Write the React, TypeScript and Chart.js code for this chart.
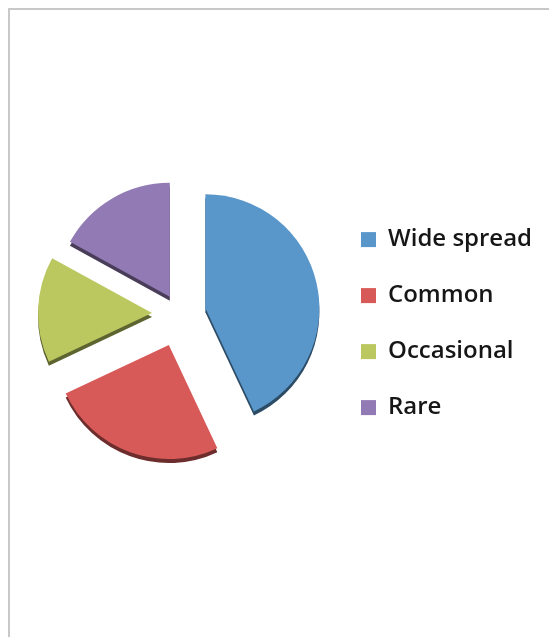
import { useEffect, useRef } from 'react';
import { Chart, ArcElement, registerables } from 'chart.js';

const categories = ['Wide spread', 'Common', 'Occasional', 'Rare'];
const shares = [43, 25, 15, 17];
const sliceColors = ['#5997cb', '#d85a58', '#bbc860', '#927bb4'];
// how far each slice is pulled out from the centre, in px
const explodeDistances = [26, 33, 28, 20];

const CANVAS_W = 547;
const CANVAS_H = 627;
const PIE_RADIUS = 114;
const AREA_LEFT = 21;
const AREA_RIGHT = 319;
const AREA_BOTTOM_PAD = 19;
const LEGEND_PAD = 32;
const LEGEND_BOX = 15;
const labelFont = { family: "'Open Sans', sans-serif", size: 24, weight: '600' };

// Arc that is moved out rigidly along its bisector, keeping its radius.
class ExplodedArc extends ArcElement {
  static id = 'explodedArc';
  draw(ctx: CanvasRenderingContext2D) {
    const opts: any = (this as any).options;
    const dist = opts.offset || 0;
    const mid = ((this as any).startAngle + (this as any).endAngle) / 2;
    ctx.save();
    ctx.translate(Math.cos(mid) * dist, Math.sin(mid) * dist);
    (this as any).options = Object.assign({}, opts, { offset: 0 });
    super.draw(ctx);
    (this as any).options = opts;
    ctx.restore();
  }
}

Chart.register(...registerables, ExplodedArc);
(Chart.defaults.datasets as any).pie.dataElementType = 'explodedArc';

// darker copy of every slice drawn a few px lower: the pie's thickness
const depthPlugin = {
  id: 'pieDepth',
  beforeDatasetDraw(chart: any, args: any) {
    const ctx = chart.ctx;
    ctx.save();
    ctx.translate(0, 4);
    ctx.filter = 'brightness(0.5)';
    args.meta.controller.draw();
    ctx.restore();
  },
};

export default function App() {
  const canvasRef = useRef<HTMLCanvasElement>(null);

  useEffect(() => {
    const canvas = canvasRef.current!;
    const measure = canvas.getContext('2d')!;
    measure.font = `${labelFont.weight} ${labelFont.size}px ${labelFont.family}`;
    const widest = Math.max(...categories.map((c) => measure.measureText(c).width));
    const legendWidth = LEGEND_PAD + LEGEND_BOX + labelFont.size / 2 + widest + 10;
    const padRight = CANVAS_W - AREA_RIGHT - legendWidth;

    const chart = new Chart(canvas, {
      type: 'pie',
      data: {
        labels: categories,
        datasets: [
          {
            data: shares,
            backgroundColor: sliceColors,
            borderWidth: 0,
            offset: explodeDistances,
            hoverOffset: 0,
            radius: PIE_RADIUS,
          } as any,
        ],
      },
      plugins: [depthPlugin],
      options: {
        responsive: false,
        animation: false,
        devicePixelRatio: 1,
        events: [],
        layout: { padding: { left: AREA_LEFT, right: padRight, top: 0, bottom: AREA_BOTTOM_PAD } },
        plugins: {
          tooltip: { enabled: false },
          legend: {
            position: 'right',
            title: { display: true, text: '', font: { size: 1 }, padding: { top: 18, bottom: 0 } },
            labels: {
              boxWidth: LEGEND_BOX,
              boxHeight: LEGEND_BOX,
              padding: LEGEND_PAD,
              color: '#161616',
              font: labelFont,
            },
          },
        },
      } as any,
    });
    return () => chart.destroy();
  }, []);

  return (
    <div
      style={{
        width: 549,
        height: 629,
        boxSizing: 'border-box',
        borderLeft: '2px solid #c8c8c8',
        borderTop: '2px solid #c8c8c8',
        background: '#fff',
      }}
    >
      <canvas ref={canvasRef} width={CANVAS_W} height={CANVAS_H} style={{ display: 'block' }} />
    </div>
  );
}
